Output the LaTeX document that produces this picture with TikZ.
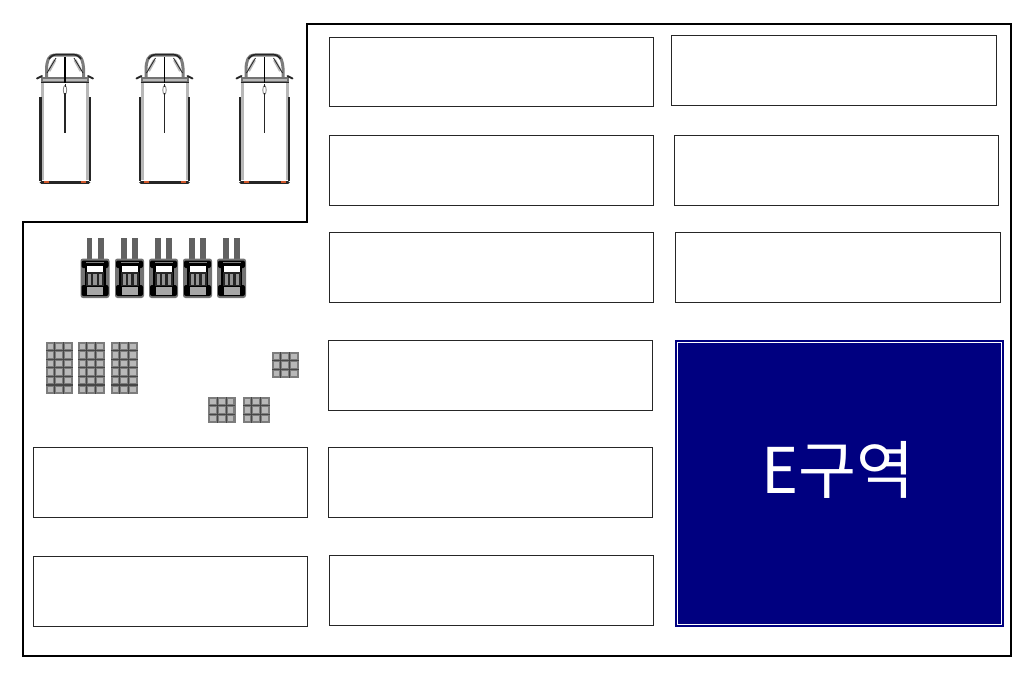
\documentclass[tikz,border=0pt]{standalone}
\usepackage{fontspec}
\newfontfamily\krfont{Noto Sans CJK KR}
\definecolor{zoneblue}{HTML}{000080}
\definecolor{cellgray}{HTML}{B8B8B8}
\definecolor{midgray}{HTML}{7C7C7C}
\definecolor{darkline}{HTML}{262626}
\definecolor{lightgray}{HTML}{B8B8B8}
\tikzset{
  wall/.style={draw=black,line width=2.4pt,line join=miter},
  slot/.style={draw=black!85,line width=1pt,fill=white},
  gridline/.style={draw=midgray,line width=.8pt},
  gridheavy/.style={draw=darkline!85,line width=1.1pt},
}
\newcommand{\truckshape}[1]{%
\begin{scope}[shift={(#1,0)}]
  % body side walls
  \draw[lightgray,line width=3pt] (-22.5,80) -- (-22.5,180);
  \draw[lightgray,line width=3pt] (22.5,80) -- (22.5,180);
  \draw[darkline,line width=2.2pt] (-24.6,97) -- (-24.6,181);
  \draw[darkline,line width=2.2pt] (24.6,97) -- (24.6,181);
  \draw[darkline,line width=3.6pt,line cap=round] (-23.5,182.5) -- (23.5,182.5);
  \fill[brown!70!red] (-21,180.5) rectangle (-16,182.5);
  \fill[brown!70!red] (16,180.5) rectangle (21,182.5);
  % cab
  \draw[midgray,line width=3pt,rounded corners=4pt] (-18.5,78) -- (-18.5,64) -- (-15,55) -- (15,55) -- (18.5,64) -- (18.5,78);
  \draw[darkline,line width=1.6pt,rounded corners=4pt] (-16,59) -- (-13,54.5) -- (13,54.5) -- (16,59);
  \draw[lightgray,line width=3pt] (-16,71) -- (-10,60);
  \draw[lightgray,line width=3pt] (16,71) -- (10,60);
  \draw[darkline,line width=.8pt] (-18,73) -- (-9,58);
  \draw[darkline,line width=.8pt] (18,73) -- (9,58);
  \draw[black,line width=1.2pt] (0,57) -- (0,83);
  % cross beam and mirrors
  \fill[black!55] (-24,77) rectangle (24,82.5);
  \fill[lightgray] (-22,78.5) rectangle (22,81);
  \draw[darkline,line width=1pt] (-24,82.5) -- (24,82.5);
  \draw[darkline,line width=1.8pt,line cap=round] (-23,76) -- (-28,78.5);
  \draw[darkline,line width=1.8pt,line cap=round] (23,76) -- (28,78.5);
  \draw[black,line width=1.2pt] (0,77) -- (0,83);
  % centre line
  \draw[midgray,line width=.8pt] (0,90) ellipse (1.7pt and 4.5pt);
  \draw[darkline,line width=1.1pt] (0,93) -- (0,133);
  \draw[darkline,line width=1pt] (0,84) -- (0,87);
\end{scope}}
\newcommand{\tractorshape}[1]{%
\begin{scope}[shift={(#1,0)}]
  \fill[black!62] (-8.5,238) rectangle (-2.7,262);
  \fill[black!62] (2.7,238) rectangle (8.5,262);
  \fill[black!55,rounded corners=2.5pt] (-14.5,258.5) rectangle (14.5,298);
  \fill[black,rounded corners=2pt] (-13.5,260.5) rectangle (13.5,268);
  \fill[black,rounded corners=2pt] (-13.5,285) rectangle (13.5,296);
  \fill[black!50] (-9,261.5) rectangle (9,264);
  \fill[black] (-10.5,263) rectangle (10.5,296);
  \fill[white] (-8,266) rectangle (8,271.5);
  \fill[black!85] (-9,272) rectangle (9,286);
  \fill[black!42] (-7,274) rectangle (-4,284.5);
  \fill[black!42] (-1.6,274) rectangle (1.6,284.5);
  \fill[black!42] (4,274) rectangle (7,284.5);
  \fill[black!35] (-8,287) rectangle (8,294.5);
\end{scope}}
% #1 x, #2 y, #3 rows
\newcommand{\palletshape}[3]{%
\begin{scope}[shift={(#1,#2)}]
  \fill[cellgray] (0,0) rectangle (26.5,#3*8.6);
  \foreach \c in {0,1,2}{\foreach \r in {1,...,#3}{
    \draw[midgray,line width=1.6pt] (\c*8.83+.8,\r*8.6-8.6+.8) rectangle (\c*8.83+8.03,\r*8.6-.8);
  }}
  \draw[gridline] (0,0) rectangle (26.5,#3*8.6);
  \foreach \c in {1,2}{\draw[gridheavy] (\c*8.83,0) -- (\c*8.83,#3*8.6);}
  \foreach \r in {1,...,#3}{\ifnum\r<#3\relax\draw[gridheavy] (0,\r*8.6) -- (26.5,\r*8.6);\fi}
\end{scope}}
\begin{document}
\begin{tikzpicture}[x=1pt,y=-1pt]
\useasboundingbox (0,0) rectangle (1034,681);
\fill[white] (0,0) rectangle (1034,681);
\draw[wall] (307,24) -- (1011,24) -- (1011,656) -- (23,656) -- (23,222) -- (307,222) -- cycle;
% slots
\draw[slot] (329.5,37) rectangle (653.5,106.5);
\draw[slot] (671.5,35) rectangle (996,105);
\draw[slot] (329.5,135.5) rectangle (653.5,205.5);
\draw[slot] (674.5,135.5) rectangle (998.5,205.5);
\draw[slot] (329.5,232) rectangle (653.5,302);
\draw[slot] (675.5,232) rectangle (1000,302);
\draw[slot] (328,340.5) rectangle (652.5,410.5);
\draw[slot] (328,447.5) rectangle (652.5,517.5);
\draw[slot] (329.5,555) rectangle (653.5,625);
\draw[slot] (33,447.5) rectangle (307,517.5);
\draw[slot] (33,556) rectangle (307,626);
% zone E
\fill[zoneblue] (675,340) rectangle (1004,627);
\draw[white,line width=1.3pt] (677.5,342.5) rectangle (1001.5,624.5);
\node[text=white,inner sep=0pt,font=\krfont\fontsize{63}{65}\selectfont] (zoneE) at (838,470) {E구역};
% trucks
\truckshape{65}
\truckshape{164.5}
\truckshape{264.5}
% tractors
\tractorshape{95}
\tractorshape{129.5}
\tractorshape{163.5}
\tractorshape{197.5}
\tractorshape{231.5}
% pallets
\palletshape{46}{342}{6}
\palletshape{78}{342}{6}
\palletshape{111}{342}{6}
\palletshape{272}{352}{3}
\palletshape{208.5}{397}{3}
\palletshape{243}{397}{3}
\end{tikzpicture}
\end{document}
